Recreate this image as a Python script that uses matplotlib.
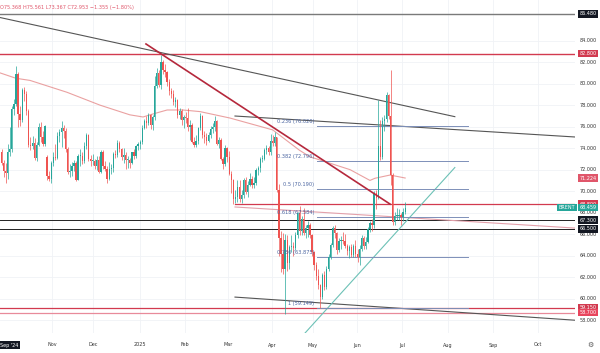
import matplotlib
matplotlib.use("Agg")
import matplotlib.pyplot as plt
import matplotlib.transforms as mtransforms
import numpy as np

# daily Brent candles, Sep 26 2024 .. early Jul 2025 (trading-day index)
opens = [73.6, 72.6, 71.9, 71.7, 73.6, 73.9, 77.6, 78.1, 80.9, 77.2,
         76.6, 79.4, 79.0, 77.5, 74.3, 74.2, 74.5, 73.1, 74.3, 76.0,
         75.0, 74.4, 73.2, 71.4, 71.1, 72.6, 73.2, 73.1, 75.1, 75.5,
         75.9, 75.6, 73.9, 71.8, 71.9, 72.3, 72.6, 71.0, 73.3, 73.3,
         72.8, 74.2, 75.2, 73.0, 72.8, 72.8, 72.3, 72.9, 71.8, 73.6,
         72.3, 72.1, 71.1, 72.1, 72.2, 73.5, 73.4, 74.5, 73.9, 73.2,
         73.4, 72.9, 72.9, 72.6, 73.6, 73.3, 74.2, 74.4, 74.6, 75.9,
         76.5, 76.3, 77.1, 76.2, 76.9, 79.8, 81.0, 79.9, 82.0, 81.3,
         81.1, 80.2, 79.3, 79.0, 78.3, 78.5, 77.1, 77.5, 76.6, 76.9,
         76.8, 76.0, 76.2, 74.6, 74.3, 74.7, 75.9, 77.0, 75.2, 75.0,
         74.7, 75.2, 75.8, 76.0, 76.5, 74.4, 74.8, 73.0, 72.5, 74.0,
         73.2, 71.6, 71.0, 69.3, 69.5, 70.4, 69.3, 69.6, 71.0, 69.9,
         70.6, 71.1, 70.6, 70.8, 72.0, 72.2, 73.0, 73.0, 73.8, 74.0,
         73.6, 74.7, 74.5, 75.0, 70.1, 65.6, 64.2, 62.8, 65.5, 63.3,
         64.8, 64.9, 64.7, 65.9, 68.0, 66.3, 67.4, 66.1, 66.6, 66.9,
         65.9, 64.3, 63.1, 62.1, 61.3, 60.2, 62.2, 61.1, 62.8, 63.9,
         65.0, 66.6, 66.1, 64.5, 65.4, 65.5, 65.4, 64.9, 64.4, 64.8,
         64.1, 64.9, 64.2, 63.9, 64.6, 65.6, 64.9, 65.3, 66.5, 67.0,
         66.9, 69.8, 69.4, 74.2, 73.2, 76.5, 76.7, 78.9, 77.0, 71.5,
         67.1, 67.7, 67.7, 67.8, 67.6, 68.1]
highs = [73.9, 72.9, 72.6, 74.4, 76.0, 77.9, 78.6, 81.6, 81.1, 77.9,
         79.6, 79.7, 79.3, 77.6, 75.0, 75.1, 74.9, 74.6, 76.3, 76.4,
         75.6, 76.2, 73.4, 71.9, 72.8, 73.6, 74.4, 75.5, 75.8, 76.5,
         76.2, 75.9, 74.1, 72.5, 72.7, 72.9, 72.8, 73.5, 73.9, 73.6,
         74.6, 75.4, 75.3, 73.4, 73.5, 73.0, 73.3, 73.3, 73.8, 73.8,
         72.8, 72.3, 72.7, 72.5, 73.6, 73.8, 74.8, 74.7, 74.0, 74.0,
         73.6, 73.3, 73.1, 73.6, 73.9, 74.3, 74.6, 74.8, 76.2, 76.7,
         77.0, 77.3, 77.2, 77.1, 80.7, 81.5, 81.3, 82.7, 82.2, 81.8,
         81.2, 80.4, 79.6, 79.4, 78.8, 78.6, 77.7, 77.6, 77.1, 77.4,
         77.7, 76.6, 76.3, 75.0, 75.2, 76.0, 77.3, 77.1, 75.6, 75.4,
         75.5, 76.1, 76.3, 77.0, 76.6, 75.0, 74.9, 73.2, 74.3, 74.1,
         73.7, 71.9, 71.1, 70.1, 71.0, 71.0, 70.1, 71.2, 71.3, 70.9,
         71.7, 71.4, 71.3, 72.2, 72.3, 73.2, 73.4, 74.0, 74.3, 74.2,
         75.3, 75.2, 75.5, 75.0, 70.7, 66.3, 66.1, 66.0, 65.9, 65.0,
         65.9, 65.3, 66.2, 68.1, 68.6, 67.7, 68.4, 66.9, 67.2, 67.0,
         66.0, 64.4, 63.4, 62.8, 61.4, 62.4, 62.6, 63.0, 64.2, 65.2,
         66.8, 66.9, 66.2, 65.6, 65.8, 66.2, 66.0, 65.1, 65.0, 65.1,
         65.1, 65.5, 64.6, 65.0, 65.9, 65.8, 65.7, 66.7, 67.2, 67.4,
         70.0, 70.1, 78.5, 76.6, 76.9, 77.1, 79.2, 79.0, 81.3, 71.7,
         68.1, 68.4, 68.3, 68.0, 68.4, 69.0]
lows = [72.4, 71.3, 70.8, 71.1, 73.3, 73.6, 77.1, 77.9, 76.0, 76.1,
        76.4, 78.4, 77.1, 74.1, 73.8, 73.9, 72.9, 72.8, 74.2, 74.6,
        74.2, 74.2, 71.0, 70.9, 70.8, 72.3, 72.9, 73.0, 74.6, 74.1,
        74.9, 73.6, 71.6, 71.3, 71.4, 71.9, 70.9, 71.0, 72.3, 72.5,
        72.6, 73.9, 72.8, 72.3, 72.4, 72.1, 72.0, 71.7, 71.7, 72.1,
        71.9, 70.8, 71.0, 71.6, 71.8, 73.1, 73.2, 73.6, 72.9, 72.6,
        72.1, 72.2, 72.2, 72.5, 73.0, 73.1, 73.8, 73.9, 74.4, 75.8,
        75.9, 76.2, 75.8, 75.7, 76.6, 79.6, 79.7, 79.5, 80.9, 80.6,
        79.8, 78.9, 78.7, 78.0, 77.8, 76.8, 76.7, 76.2, 75.9, 76.3,
        75.6, 74.8, 74.5, 74.1, 74.1, 74.4, 75.7, 74.9, 74.5, 74.3,
        74.6, 74.9, 75.4, 75.6, 74.3, 74.0, 72.9, 72.1, 72.3, 72.7,
        71.5, 69.8, 68.8, 68.9, 69.0, 69.0, 68.9, 69.4, 69.7, 69.5,
        70.5, 70.3, 70.3, 70.6, 71.5, 71.8, 72.7, 72.9, 73.5, 73.4,
        73.4, 74.2, 74.2, 69.9, 64.0, 62.5, 62.3, 58.6, 62.6, 62.8,
        64.3, 64.0, 64.5, 65.6, 65.9, 65.9, 65.9, 65.6, 65.7, 65.6,
        64.0, 62.7, 61.7, 60.9, 59.15, 60.0, 60.8, 60.9, 62.6, 63.7,
        64.8, 65.6, 64.2, 64.3, 64.6, 65.1, 64.7, 64.1, 63.8, 63.9,
        63.9, 63.9, 63.4, 63.1, 64.4, 64.6, 64.6, 65.2, 66.2, 66.3,
        66.6, 68.3, 69.3, 72.9, 73.0, 75.6, 76.4, 76.7, 70.6, 66.9,
        66.9, 67.3, 67.3, 66.9, 67.2, 67.9]
closes = [72.6, 71.9, 71.7, 73.6, 73.9, 77.6, 78.1, 80.9, 77.2, 76.6,
          79.4, 79.0, 77.5, 74.3, 74.2, 74.5, 73.1, 74.3, 76.0, 75.0,
          74.4, 76.1, 71.4, 71.1, 72.6, 73.2, 73.1, 75.1, 75.5, 75.9,
          75.6, 73.9, 71.8, 71.9, 72.3, 72.6, 71.0, 73.3, 73.3, 72.8,
          74.2, 75.2, 73.0, 72.8, 72.8, 72.3, 72.9, 71.8, 73.6, 72.3,
          72.1, 71.1, 72.1, 72.2, 73.5, 73.4, 74.5, 73.9, 73.2, 73.4,
          72.9, 72.9, 72.6, 73.6, 73.3, 74.2, 74.4, 74.6, 75.9, 76.5,
          76.3, 77.1, 76.2, 76.9, 79.8, 81.0, 79.9, 82.0, 81.3, 81.1,
          80.2, 79.3, 79.0, 78.3, 78.5, 77.1, 77.5, 76.6, 76.9, 76.8,
          76.0, 76.2, 74.6, 74.3, 74.7, 75.9, 77.0, 75.2, 75.0, 74.7,
          75.2, 75.8, 76.0, 76.5, 74.4, 74.8, 73.0, 72.5, 74.0, 73.2,
          71.6, 71.0, 69.3, 69.5, 70.4, 69.3, 69.6, 71.0, 69.9, 70.6,
          71.1, 70.6, 70.8, 72.0, 72.2, 73.0, 73.0, 73.8, 74.0, 73.6,
          74.7, 74.5, 75.0, 70.1, 65.6, 64.2, 62.8, 65.5, 63.3, 64.8,
          64.9, 64.7, 65.9, 68.0, 66.3, 67.4, 66.1, 66.6, 66.9, 65.9,
          64.3, 63.1, 62.1, 61.3, 60.2, 62.2, 61.1, 62.8, 63.9, 65.0,
          66.6, 66.1, 64.5, 65.4, 65.5, 65.4, 64.9, 64.4, 64.8, 64.1,
          64.9, 64.2, 63.9, 64.6, 65.6, 64.9, 65.3, 66.5, 67.0, 66.9,
          69.8, 69.4, 74.2, 73.2, 76.5, 76.7, 78.9, 77.0, 71.5, 67.1,
          67.7, 67.7, 67.8, 67.6, 68.1, 68.459]

# 200-day moving average at a few points (index, price)
ma_idx = [-0.7, 7, 13.8, 31.6, 47.6, 62, 68.4, 71.7, 80, 87.7, 95.9, 110.4,
          131, 144, 149, 158.7, 168.4, 178, 180.4, 187.7, 195]
ma_val = [81.0, 80.5, 80.3, 79.2, 78.0, 77.1, 76.9, 77.1, 77.55, 77.55, 77.4,
          76.8, 75.7, 73.8, 73.2, 72.6, 72.0, 71.0, 71.2, 71.5, 71.224]

# fibonacci retracement (81.231 -> 59.149)
fib_ratios = ["0.236", "0.382", "0.5", "0.618", "0.786", "1"]
fib_prices = [76.020, 72.796, 70.190, 67.584, 63.875, 59.149]
fib_start, fib_end = 152.6, 225.4

# horizontal levels
level_prices = [86.48, 82.80, 68.80, 67.30, 66.50, 59.15, 58.70]

# trendlines ((x0, y0), (x1, y1)) in (index, price)
trend_dark = [((-0.7, 86.15), (219.0, 76.93)),
              ((112.8, 76.99), (277.0, 75.04)),
              ((112.8, 60.15), (277.0, 58.0))]
trend_red = ((69.8, 83.69), (187.7, 68.8))
trend_pink = ((112.8, 68.53), (277.0, 66.57))
trend_teal = ((146.6, 56.8), (219.0, 72.2))

month_pos = [24.4, 44.2, 66.9, 88.6, 109.4, 130.7, 150.5, 171.7, 193.5,
             215.7, 237.4, 259.2]
month_labels = ["Nov", "Dec", "2025", "Feb", "Mar", "Apr", "May", "Jun",
                "Jul", "Aug", "Sep", "Oct"]
price_ticks = [58, 60, 62, 64, 66, 68, 70, 72, 74, 76, 78, 80, 82, 84]

UP, DOWN = "#26a69a", "#ef5350"
RED = "#d23a4f"

fig = plt.figure(figsize=(6.0, 3.53), dpi=100)
ax = fig.add_axes([0, 20 / 353, 575 / 600, 333 / 353])
ax.set_xlim(-0.725, 277.05)
ax.set_ylim(56.81, 87.78)
for s in ax.spines.values():
    s.set_visible(False)
ax.set_xticks([])
ax.set_yticks([])

# grid
for m in month_pos:
    ax.axvline(m, color="#f0f2f6", lw=0.6, zorder=0)
for p in price_ticks:
    ax.axhline(p, color="#f0f2f6", lw=0.6, zorder=0)

# candles
x = np.arange(len(closes))
o = np.array(opens)
c = np.array(closes)
colors = [UP if cc >= oo else DOWN for oo, cc in zip(o, c)]
ax.vlines(x, lows, highs, colors=colors, lw=0.5, zorder=3)
body = np.where(np.abs(c - o) < 0.08, 0.08, c - o)
ax.bar(x, body, bottom=o, width=0.62, color=colors, lw=0, zorder=3)

# moving average
ax.plot(ma_idx, ma_val, color="#e58a8a", lw=0.8, alpha=0.8, zorder=2)

# levels
ax.axhline(level_prices[0], color="#7a7a7a", lw=1.0, zorder=2)
ax.axhline(level_prices[1], color=RED, lw=1.0, zorder=2)
ax.plot([112.8, 277.05], [level_prices[2]] * 2, color=RED, lw=0.9, zorder=2)
ax.axhline(level_prices[3], color="#222222", lw=0.7, zorder=2)
ax.axhline(level_prices[4], color="#222222", lw=0.7, zorder=2)
ax.axhline(level_prices[5], color=RED, lw=0.9, zorder=2)
ax.axhline(level_prices[6], color="#e88a9a", lw=0.9, zorder=2)

# trendlines
for (x0, y0), (x1, y1) in trend_dark:
    ax.plot([x0, x1], [y0, y1], color="#555555", lw=0.8, zorder=2)
ax.plot(*zip(*trend_red), color="#b5283c", lw=1.2, zorder=4)
ax.plot(*zip(*trend_pink), color="#e3a0aa", lw=0.8, zorder=2)
ax.plot(*zip(*trend_teal), color="#6cc1b6", lw=0.8, zorder=2)

# fibonacci levels
for r, p in zip(fib_ratios, fib_prices):
    ax.plot([fib_start, fib_end], [p, p], color="#7d8fb8", lw=0.7, zorder=2)
    ax.text(fib_start - 1.5, p + 0.2, f"{r} ({p:.3f})", color="#4a64a0",
            fontsize=3.6, ha="right", va="bottom", zorder=5)

# OHLC header
ax.text(0.0, 0.985, "O75.368 H75.561 L73.367 C72.953 \u22121.355 (\u22121.80%)",
        transform=ax.transAxes, color="#e0566a", fontsize=3.6, ha="left",
        va="top")

# right price scale
tr = mtransforms.blended_transform_factory(fig.transFigure, ax.transData)
for p in price_ticks:
    fig.text(0, 0, "")
    ax.text(588 / 600, p, f"{p:.3f}", transform=tr, fontsize=3.5,
            color="#333333", ha="center", va="center", clip_on=False)


def tag(price, label, fc, xc=588 / 600):
    ax.text(xc, price, label, transform=tr, fontsize=3.5, color="white",
            ha="center", va="center", clip_on=False, zorder=10,
            bbox=dict(boxstyle="square,pad=0.25", fc=fc, ec="none"))


tag(86.48, "86.480", "#131722")
tag(82.80, "82.800", RED)
tag(71.224, "71.224", "#e0566a")
tag(68.80, "68.800", RED)
tag(68.459, "68.459", UP)
tag(68.459, "BRENT", UP, xc=567 / 600)
tag(67.30, "67.300", "#131722")
tag(66.50, "66.500", "#131722")
tag(59.15, "59.150", RED)
tag(58.70, "58.700", "#e8455d")

# time scale
for m, lab in zip(month_pos, month_labels):
    fig.text((1.5 + 2.07 * m) / 600, 8 / 353, lab, fontsize=3.5,
             color="#333333", ha="center", va="center")
fig.text(9 / 600, 8 / 353, "Sep '24", fontsize=3.5, color="white",
         ha="center", va="center",
         bbox=dict(boxstyle="square,pad=0.3", fc="#131722", ec="none"))
fig.text(590 / 600, 8 / 353, "\u2699", fontsize=5, color="#555555",
         ha="center", va="center")

fig.savefig("out.png", dpi=100)
